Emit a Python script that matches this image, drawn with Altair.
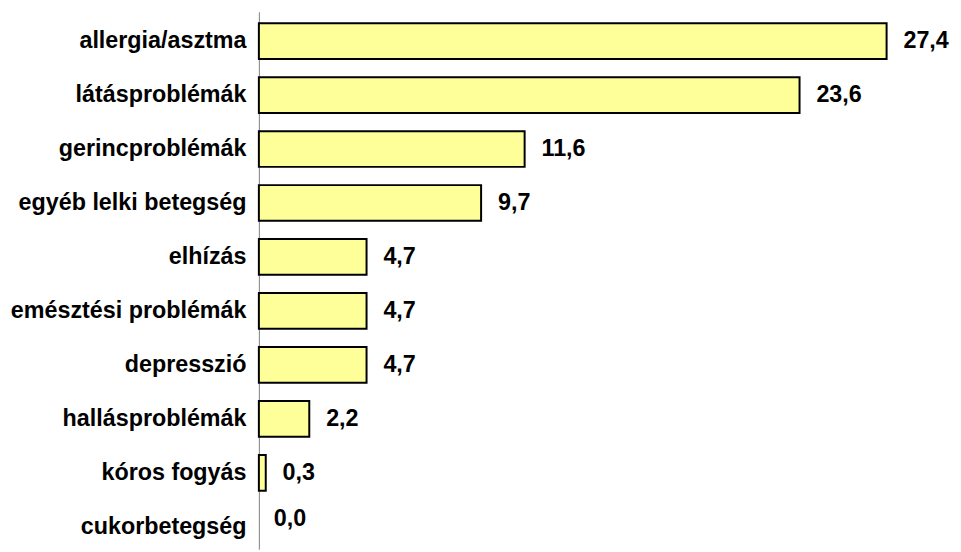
import altair as alt
import pandas as pd

categories = ["allergia/asztma", "látásproblémák", "gerincproblémák", "egyéb lelki betegség",
              "elhízás", "emésztési problémák", "depresszió", "hallásproblémák",
              "kóros fogyás", "cukorbetegség"]
values = [27.4, 23.6, 11.6, 9.7, 4.7, 4.7, 4.7, 2.2, 0.3, 0.0]

df = pd.DataFrame({"cat": categories, "val": values,
                   "lab": [f"{v:.1f}".replace(".", ",") for v in values]})

y = alt.Y("cat:N", sort=categories, title=None,
          scale=alt.Scale(range=[9, 535], paddingInner=0.338, paddingOuter=0),
          axis=alt.Axis(ticks=False, domain=False, labelPadding=13, labelFont="Liberation Sans",
                        labelFontWeight="bold", labelFontSize=23.5, labelColor="black",
                        labelLimit=400))
x = alt.X("val:Q", title=None, scale=alt.Scale(domain=[0, 29], nice=False),
          axis=None)

axis_line = alt.Chart(pd.DataFrame({"a": [0]})).mark_rule(
    color="#808080", strokeWidth=1).encode(
    x=alt.value(0.5), y=alt.value(-2), y2=alt.value(540))
bars = alt.Chart(df).transform_filter("datum.val > 0").mark_bar(
    fill="#FFFF99", stroke="black", strokeWidth=2).encode(x=x, y=y)
text = alt.Chart(df).transform_filter("datum.val > 0").mark_text(
    align="left", baseline="middle", dx=17, font="Liberation Sans",
    fontWeight="bold", fontSize=23.5, color="black").encode(x=x, y=y, text="lab:N")
text0 = alt.Chart(df).transform_filter("datum.val <= 0").mark_text(
    align="left", baseline="middle", dx=15, dy=-8, font="Liberation Sans",
    fontWeight="bold", fontSize=23.5, color="black").encode(x=x, y=y, text="lab:N")

chart = (axis_line + bars + text + text0).properties(
    width=670, height=540,
    autosize=alt.AutoSizeParams(type="none"),
    padding={"left": 253, "top": 4, "right": 30, "bottom": 0},
).configure_view(stroke=None).configure_axis(grid=False)

chart.save("out.html", embed_options={"renderer": "svg", "actions": False})
